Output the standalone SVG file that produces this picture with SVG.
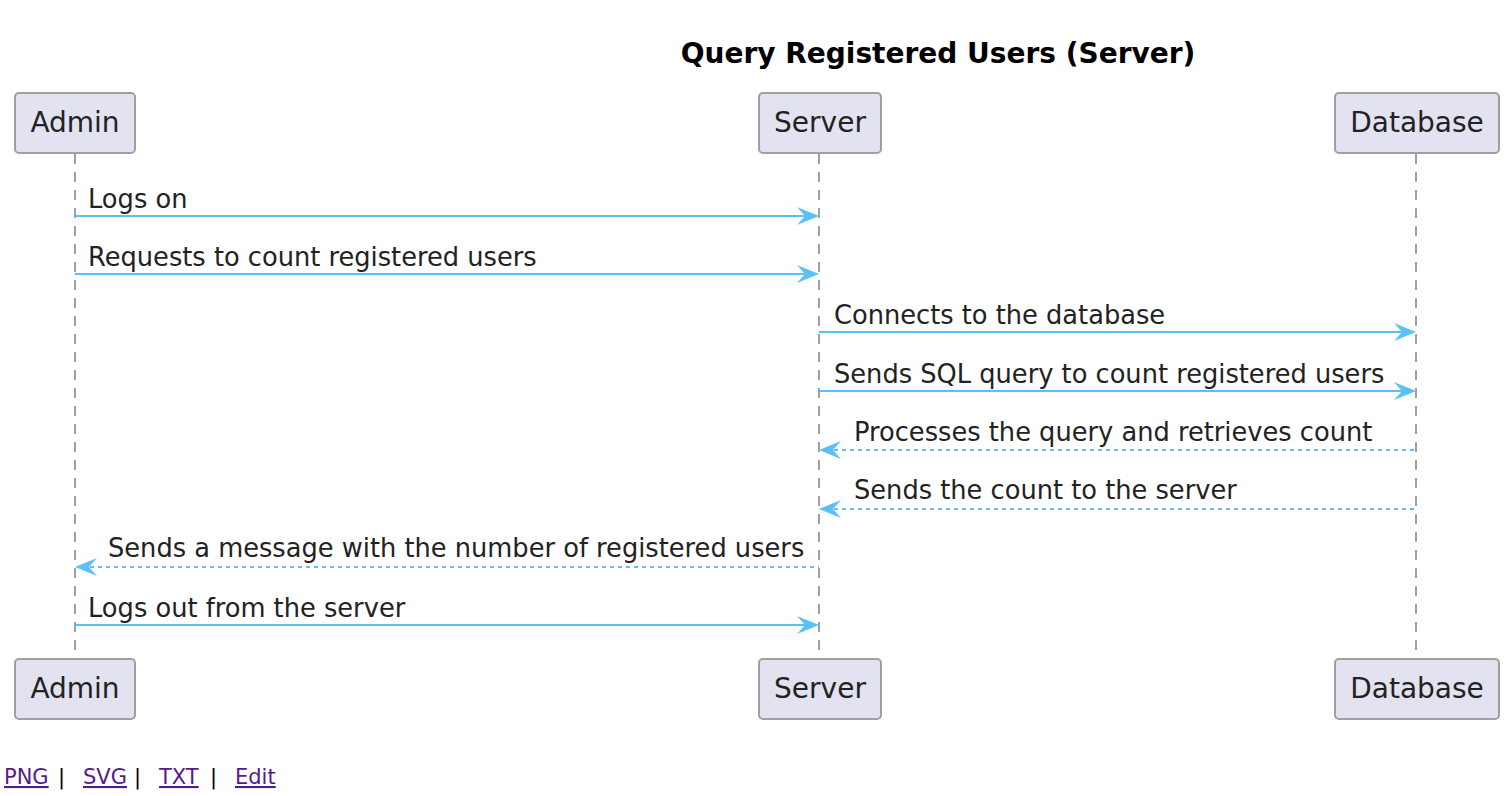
<svg xmlns="http://www.w3.org/2000/svg" width="1512" height="796" viewBox="0 0 1512 796">
<defs>
<style>
.box{fill:#E2E2F0;stroke:#A0A0A0;stroke-width:2}
.bt{font-family:"DejaVu Sans",sans-serif;font-size:28px;fill:#222;text-anchor:middle}
.life{stroke:#A0A0A0;stroke-width:2;stroke-dasharray:10 8}
.msg{stroke:#5BC0F8;stroke-width:2;fill:none}
.ret{stroke:#5BC0F8;stroke-width:2;fill:none;stroke-dasharray:4 4}
.head{fill:#5BC0F8}
.mt{font-family:"DejaVu Sans",sans-serif;font-size:25.7px;fill:#222}
.title{font-family:"DejaVu Sans",sans-serif;font-size:28px;font-weight:bold;fill:#000;text-anchor:middle}
.lnk{font-family:"DejaVu Sans",sans-serif;font-size:21px;fill:#551A8B;text-decoration:underline}
.sep{font-family:"DejaVu Sans",sans-serif;font-size:21px;fill:#000}
</style>
</defs>
<rect width="1512" height="796" fill="#fff"/>
<text class="title" x="938" y="63">Query Registered Users (Server)</text>
<g id="lifelines">
<line class="life" x1="75" y1="154" x2="75" y2="658"/>
<line class="life" x1="819" y1="154" x2="819" y2="658"/>
<line class="life" x1="1416" y1="154" x2="1416" y2="658"/>
</g>
<g id="admin">
<rect class="box" x="15" y="93" width="120" height="60" rx="4"/>
<text class="bt" x="75" y="132">Admin</text>
<rect class="box" x="15" y="659" width="120" height="60" rx="4"/>
<text class="bt" x="75" y="698">Admin</text>
</g>
<g id="server">
<rect class="box" x="759" y="93" width="122" height="60" rx="4"/>
<text class="bt" x="820" y="132">Server</text>
<rect class="box" x="759" y="659" width="122" height="60" rx="4"/>
<text class="bt" x="820" y="698">Server</text>
</g>
<g id="database">
<rect class="box" x="1335" y="93" width="164" height="60" rx="4"/>
<text class="bt" x="1417" y="132">Database</text>
<rect class="box" x="1335" y="659" width="164" height="60" rx="4"/>
<text class="bt" x="1417" y="698">Database</text>
</g>
<g id="connectors">
<line class="msg" x1="75" y1="216" x2="812" y2="216"/>
<polygon class="head" points="819,216 797,207 805,216 797,225"/>
<text class="mt" x="88" y="208">Logs on</text>

<line class="msg" x1="75" y1="274" x2="812" y2="274"/>
<polygon class="head" points="819,274 797,265 805,274 797,283"/>
<text class="mt" x="88" y="266">Requests to count registered users</text>

<line class="msg" x1="819" y1="332" x2="1409" y2="332"/>
<polygon class="head" points="1416,332 1394,323 1402,332 1394,341"/>
<text class="mt" x="834" y="324">Connects to the database</text>

<line class="msg" x1="819" y1="391" x2="1409" y2="391"/>
<polygon class="head" points="1416,391 1394,382 1402,391 1394,400"/>
<text class="mt" x="834" y="383">Sends SQL query to count registered users</text>

<line class="ret" x1="826" y1="450" x2="1416" y2="450"/>
<polygon class="head" points="819,450 841,441 833,450 841,459"/>
<text class="mt" x="854" y="441">Processes the query and retrieves count</text>

<line class="ret" x1="826" y1="509" x2="1416" y2="509"/>
<polygon class="head" points="819,509 841,500 833,509 841,518"/>
<text class="mt" x="854" y="499">Sends the count to the server</text>

<line class="ret" x1="82" y1="567" x2="819" y2="567"/>
<polygon class="head" points="75,567 97,558 89,567 97,576"/>
<text class="mt" x="108" y="557">Sends a message with the number of registered users</text>

<line class="msg" x1="75" y1="625" x2="812" y2="625"/>
<polygon class="head" points="819,625 797,616 805,625 797,634"/>
<text class="mt" x="88" y="617">Logs out from the server</text>
</g>
<g id="footer">
<text class="lnk" x="4" y="784">PNG</text>
<text class="sep" x="58" y="784">|</text>
<text class="lnk" x="83" y="784">SVG</text>
<text class="sep" x="134" y="784">|</text>
<text class="lnk" x="159" y="784">TXT</text>
<text class="sep" x="210" y="784">|</text>
<text class="lnk" x="235" y="784">Edit</text>
</g>
</svg>
